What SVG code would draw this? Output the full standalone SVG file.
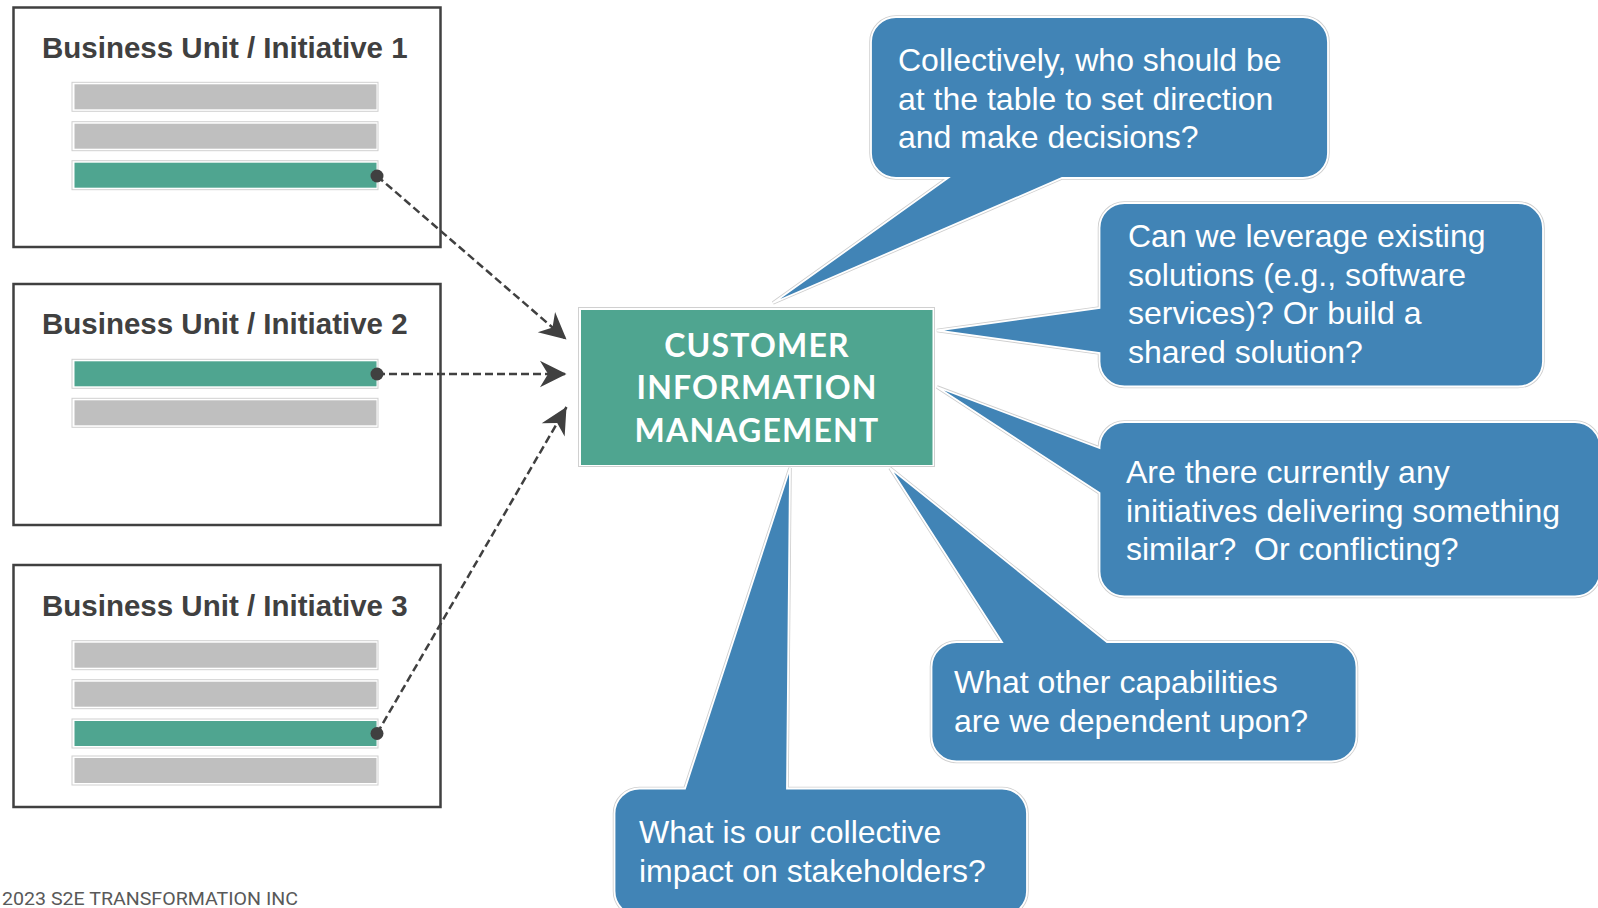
<svg xmlns="http://www.w3.org/2000/svg" xmlns:xlink="http://www.w3.org/1999/xlink" width="1598" height="908" viewBox="0 0 1598 908">
<style>
.bu{fill:#fff;stroke:#404040;stroke-width:2.5}
.title{font-family:"Liberation Sans",Arial,sans-serif;font-weight:bold;font-size:29.5px;fill:#404040}
.barO{fill:#fff;stroke:#d0d0d0;stroke-width:1}
.gray{fill:#bfbfbf}
.green{fill:#4fa590}
.dot{fill:#404040}
.conn{fill:none;stroke:#404040;stroke-width:2.5;stroke-dasharray:8 4}
.bq{font-family:"Liberation Sans",Arial,sans-serif;font-size:32px;fill:#fff}
.cim{font-family:Lato,"Open Sans",sans-serif;font-weight:bold;font-size:32px;fill:#fff;text-anchor:middle;letter-spacing:1.2px}
.bOut{fill:none;stroke:#cfcfcf;stroke-width:3.5}
.bIn{fill:#4184b6;stroke:#fff;stroke-width:1.8}
.copy{font-family:Roboto,"Liberation Sans",sans-serif;font-size:19px;fill:#595959}
</style>
<defs>
<marker id="arr" markerUnits="userSpaceOnUse" markerWidth="30" markerHeight="30" viewBox="-24 -13 26 26" refX="0" refY="0" orient="auto">
<path d="M0,0 L-23,-11.5 L-16,0 L-23,11.5 Z" fill="#404040"/>
</marker>
<path id="b1" d="M896,17 H1303 A25,25 0 0 1 1328,42 V153 A25,25 0 0 1 1303,178 H1062 L773,303 L948,178 H896 A25,25 0 0 1 871,153 V42 A25,25 0 0 1 896,17 Z"/>
<path id="b2" d="M1124.5,203 H1518 A25,25 0 0 1 1543,228 V361.5 A25,25 0 0 1 1518,386.5 H1124.5 A25,25 0 0 1 1099.5,361.5 V353 L937,330.5 L1099.5,308 V228 A25,25 0 0 1 1124.5,203 Z"/>
<path id="b3" d="M1124.5,422 H1575 A25,25 0 0 1 1600,447 V571.5 A25,25 0 0 1 1575,596.5 H1124.5 A25,25 0 0 1 1099.5,571.5 V493 L937,387 L1099.5,448 V447 A25,25 0 0 1 1124.5,422 Z"/>
<path id="b4" d="M956.5,642 H1002 L890,468 L1107,642 H1331.5 A25,25 0 0 1 1356.5,667 V736.5 A25,25 0 0 1 1331.5,761.5 H956.5 A25,25 0 0 1 931.5,736.5 V667 A25,25 0 0 1 956.5,642 Z"/>
<path id="b5" d="M639.5,788.5 H685 L790,468 L787,788.5 H1002 A25,25 0 0 1 1027,813.5 V891 A25,25 0 0 1 1002,916 H639.5 A25,25 0 0 1 614.5,891 V813.5 A25,25 0 0 1 639.5,788.5 Z"/>
</defs>
<rect width="1598" height="908" fill="#fff"/>

<g id="bu1">
<rect class="bu" x="13.5" y="7.5" width="427" height="239.5"/>
<text class="title" x="42" y="58.3">Business Unit / Initiative 1</text>
<rect class="barO" x="72" y="82.3" width="306" height="29"/><rect class="gray" x="74.5" y="84.3" width="302" height="25"/>
<rect class="barO" x="72" y="121.7" width="306" height="29"/><rect class="gray" x="74.5" y="123.7" width="302" height="25"/>
<rect class="barO" x="72" y="160.7" width="306" height="29"/><rect class="green" x="74.5" y="162.7" width="302" height="25"/>
</g>
<g id="bu2">
<rect class="bu" x="13.5" y="284" width="427" height="241"/>
<text class="title" x="42" y="334.4">Business Unit / Initiative 2</text>
<rect class="barO" x="72" y="359.3" width="306" height="29"/><rect class="green" x="74.5" y="361.3" width="302" height="25"/>
<rect class="barO" x="72" y="398.3" width="306" height="29"/><rect class="gray" x="74.5" y="400.3" width="302" height="25"/>
</g>
<g id="bu3">
<rect class="bu" x="13.5" y="565" width="427" height="242"/>
<text class="title" x="42" y="615.7">Business Unit / Initiative 3</text>
<rect class="barO" x="72" y="640.7" width="306" height="29"/><rect class="gray" x="74.5" y="642.7" width="302" height="25"/>
<rect class="barO" x="72" y="679.7" width="306" height="29"/><rect class="gray" x="74.5" y="681.7" width="302" height="25"/>
<rect class="barO" x="72" y="719" width="306" height="29"/><rect class="green" x="74.5" y="721" width="302" height="25"/>
<rect class="barO" x="72" y="756" width="306" height="29"/><rect class="gray" x="74.5" y="758" width="302" height="25"/>
</g>

<g id="connectors">
<line class="conn" x1="377" y1="176" x2="566.5" y2="339.5" marker-end="url(#arr)"/>
<line class="conn" x1="377" y1="374" x2="566.5" y2="374" marker-end="url(#arr)"/>
<line class="conn" x1="377" y1="733.5" x2="566.5" y2="407" marker-end="url(#arr)"/>
<circle class="dot" cx="377" cy="176" r="6.5"/>
<circle class="dot" cx="377" cy="374" r="6.5"/>
<circle class="dot" cx="377" cy="733.5" r="6.5"/>
</g>

<g id="q1"><use xlink:href="#b1" class="bOut"/><use xlink:href="#b1" class="bIn"/>
<text class="bq" x="898" y="70.7">Collectively, who should be</text>
<text class="bq" x="898" y="110">at the table to set direction</text>
<text class="bq" x="898" y="148.3">and make decisions?</text>
</g>
<g id="q2"><use xlink:href="#b2" class="bOut"/><use xlink:href="#b2" class="bIn"/>
<text class="bq" x="1128" y="246.7">Can we leverage existing</text>
<text class="bq" x="1128" y="286">solutions (e.g., software</text>
<text class="bq" x="1128" y="324.3">services)? Or build a</text>
<text class="bq" x="1128" y="362.7">shared solution?</text>
</g>
<g id="q3"><use xlink:href="#b3" class="bOut"/><use xlink:href="#b3" class="bIn"/>
<text class="bq" x="1126" y="482.7">Are there currently any</text>
<text class="bq" x="1126" y="521.7">initiatives delivering something</text>
<text class="bq" x="1126" y="560" xml:space="preserve">similar?  Or conflicting?</text>
</g>
<g id="q4"><use xlink:href="#b4" class="bOut"/><use xlink:href="#b4" class="bIn"/>
<text class="bq" x="954" y="693.3">What other capabilities</text>
<text class="bq" x="954" y="731.7">are we dependent upon?</text>
</g>
<g id="q5"><use xlink:href="#b5" class="bOut"/><use xlink:href="#b5" class="bIn"/>
<text class="bq" x="639" y="842.7">What is our collective</text>
<text class="bq" x="639" y="881.7">impact on stakeholders?</text>
</g>

<g id="cim">
<rect x="578.5" y="307.5" width="356" height="159" fill="#fff" stroke="#d0d0d0" stroke-width="1"/>
<rect class="green" x="581" y="310" width="351.5" height="155"/>
<text class="cim" x="757" y="356.5">CUSTOMER</text>
<text class="cim" x="757" y="399.3">INFORMATION</text>
<text class="cim" x="757" y="441.7">MANAGEMENT</text>
</g>

<text class="copy" x="2" y="905" textLength="296" lengthAdjust="spacingAndGlyphs">2023 S2E TRANSFORMATION INC</text>
</svg>
